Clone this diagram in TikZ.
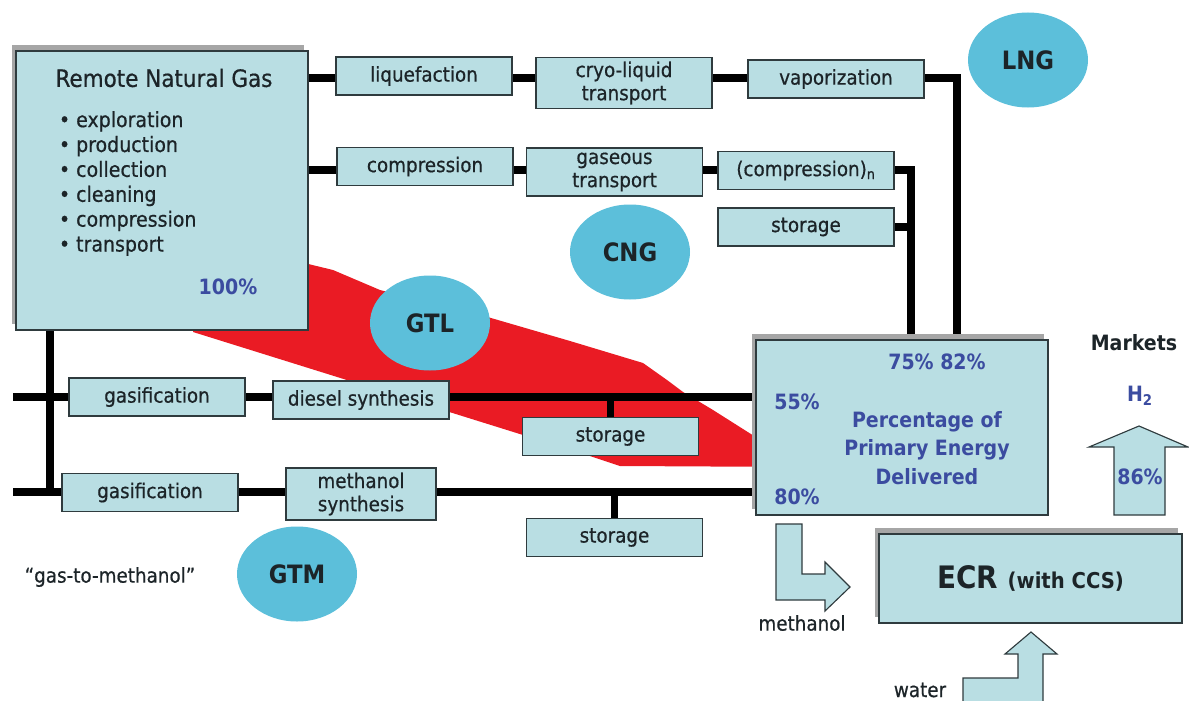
\documentclass[tikz,border=0pt]{standalone}
\usepackage{fontspec}
\setmainfont{DejaVu Sans Condensed}[UprightFeatures={FakeBold=0.6}]
\usetikzlibrary{positioning,shapes.geometric,shadows,backgrounds}
\definecolor{boxcyan}{HTML}{B9DEE3}
\definecolor{bubblecol}{HTML}{5CBFDA}
\definecolor{pctblue}{HTML}{3B4CA0}
\definecolor{gtlred}{HTML}{EA1B24}
\definecolor{edge}{HTML}{2F3B3E}
\definecolor{ink}{HTML}{1C2428}

\begin{document}
\begin{tikzpicture}[
  x=0.25mm,y=-0.25mm,
  font=\fontsize{14.5}{17}\selectfont,text=ink,
  stagebox/.style={draw=edge,fill=boxcyan,line width=0.8pt,minimum width=44mm,minimum height=9.5mm,inner sep=0pt,align=center,font=\fontsize{14.5}{16.5}\selectfont},
  bigbox/.style={draw=edge,fill=boxcyan,line width=0.8pt,drop shadow={shadow xshift=-1.1mm,shadow yshift=1.5mm,fill=black!35,opacity=1}},
  bubble/.style={ellipse,fill=bubblecol,minimum width=30mm,minimum height=23.75mm,inner sep=0pt,font=\fontsize{18}{20}\selectfont\bfseries},
  pipe/.style={line width=5pt},
  pct/.style={text=pctblue,font=\fontsize{15}{20.5}\selectfont\bfseries},
  fat/.style={draw=edge,fill=boxcyan,line width=0.8pt},
]
\useasboundingbox (0,0) rectangle (1189,701);
% source and target boxes
\node[bigbox,minimum width=73mm,minimum height=69.75mm] (rng) at (162,190.5) {};
\node[font=\fontsize{17}{19}\selectfont] (rngtitle) at (164,78) {Remote Natural Gas};
\node[align=left,anchor=west,font=\fontsize{15}{17.7}\selectfont] (rngsteps) at (54,183.5)
  {\textbullet\ exploration\\ \textbullet\ production\\ \textbullet\ collection\\
   \textbullet\ cleaning\\ \textbullet\ compression\\ \textbullet\ transport};
\node[pct] (p100) at (228,287) {100\%};
\node[bigbox,minimum width=73mm,minimum height=43.75mm] (pct) at (902,427.5) {};
\node[pct] (p7582) at (937,362) {75\% 82\%};
\node[pct] (p55) at (797,402) {55\%};
\node[pct] (p80) at (797,497) {80\%};
\node[pct,align=center] (pcttext) at (927,448) {Percentage of\\Primary Energy\\Delivered};
\node[bigbox,minimum width=75.75mm,minimum height=22.25mm,font=\bfseries] (ecr) at (1030.5,578.5)
  {\fontsize{22}{24}\selectfont ECR \fontsize{15.5}{17}\selectfont(with CCS)\hspace{5mm}};
% LNG row
\node[stagebox] (liq) at (424,76) {liquefaction};
\node[stagebox,minimum height=12.75mm] (cryo) at (624,83) {cryo-liquid\\transport};
\node[stagebox] (vap) at (836,79) {vaporization};
% CNG row
\node[stagebox] (comp) at (425,166.5) {compression};
\node[stagebox,minimum height=12mm] (gast) at (614.5,172) {gaseous\\transport};
\node[stagebox] (compn) at (806,170.5) {(compression)\textsubscript{n}};
\node[stagebox] (stor1) at (806,227) {storage};
% GTL row
\node[stagebox] (gasif1) at (157,397) {gasification};
\node[stagebox] (diesel) at (361,400) {diesel synthesis};
\node[stagebox] (stor2) at (610.5,436.5) {storage};
% GTM row
\node[stagebox] (gasif2) at (150,492.5) {gasification};
\node[stagebox,minimum width=37.5mm,minimum height=13mm] (meth) at (361,494) {methanol\\synthesis};
\node[stagebox] (stor3) at (614.5,537.5) {storage};
% bubbles
\node[bubble] (lng) at (1028,60) {LNG};
\node[bubble] (cng) at (630,252) {CNG};
\node[bubble] (gtl) at (430,323) {GTL};
\node[bubble] (gtm) at (297,574) {GTM};
\node (gtmnote) at (110,577) {``gas-to-methanol''};
% markets side
\node[font=\fontsize{15}{17}\selectfont\bfseries] (mkt) at (1134,343) {Markets};
\node[pct] (h2) at (1140,396) {H\textsubscript{2}};
\draw[fat] (1114,515) -- (1114,447) -- (1089,447) -- (1139,426) -- (1188,447) -- (1165,447) -- (1165,515) -- cycle;
\node[pct] (p86) at (1140,477) {86\%};
\draw[fat] (776,524) -- (802,524) -- (802,574) -- (825,574) -- (825,562) -- (850,587) -- (825,611) -- (825,600) -- (776,600) -- cycle;
\node (methlbl) at (802,623) {methanol};
\draw[fat] (963,703) -- (963,678) -- (1018,678) -- (1018,654) -- (1005,654) -- (1031,632) -- (1057,654) -- (1043,654) -- (1043,703);
\node (waterlbl) at (920,690) {water};
% pipes and GTL band
\coordinate (r1) at (308,78);
\coordinate (r2) at (308,170);
\coordinate (r3) at (13,397);
\coordinate (r4) at (13,492);
\coordinate (drop) at (50,330);
\coordinate (lngin) at (957,340);
\coordinate (cngin) at (911,340);
\begin{scope}[on background layer]
  \fill[gtlred] (300,262) -- (333,270) -- (380,290) -- (491,318) -- (570,341) -- (643,363)
    -- (667,380) -- (683,392) -- (713,410) -- (803,467) -- (620,466) -- (593,457)
    -- (523,435) -- (193,332) -- (193,300) -- cycle;
  \draw[pipe] (r1) -- (r1 -| vap) -| (lngin);
  \draw[pipe] (r2) -- (r2 -| compn) -| (cngin);
  \draw[pipe] (stor1) -| (cngin);
  \draw[pipe] (drop) -- (drop |- r4);
  \draw[pipe] (r3) -- (r3 -| pct.west);
  \draw[pipe] (r4) -- (r4 -| pct.west);
  \draw[pipe] (stor2) -- (stor2 |- r3);
  \draw[pipe] (stor3) -- (stor3 |- r4);
\end{scope}
\end{tikzpicture}
\end{document}
